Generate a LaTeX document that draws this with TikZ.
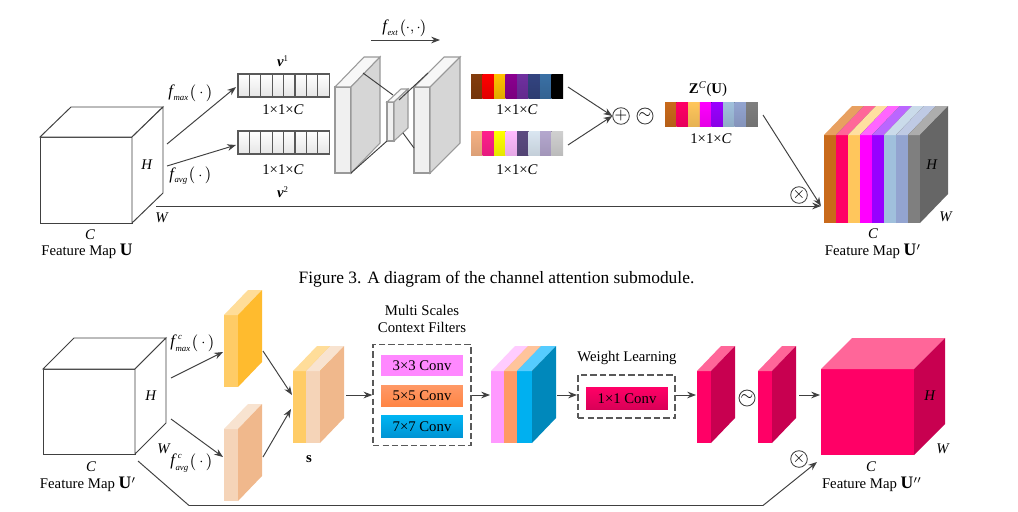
\documentclass[tikz,border=0pt]{standalone}
\usepackage{fontspec}
\setmainfont{Liberation Serif}
\usepackage{amsmath}
\usepackage{xcolor}
\usetikzlibrary{arrows.meta, calc}
\definecolor{lineColor}{HTML}{404040}
\definecolor{yellowFront}{HTML}{FFCC66}
\definecolor{yellowTop}{HTML}{FFDD99}
\definecolor{yellowSide}{HTML}{FFBB2E}
\definecolor{peachFront}{HTML}{F5D4B8}
\definecolor{peachTop}{HTML}{F8E3D0}
\definecolor{peachSide}{HTML}{F0B88C}
\definecolor{pinkFront}{HTML}{FF0066}
\definecolor{pinkTop}{HTML}{FF6699}
\definecolor{pinkSide}{HTML}{C80050}
\tikzset{
    arr/.style={lineColor, line width=0.55pt, -{Stealth[length=5pt,width=3.8pt]}},
    conn/.style={lineColor, line width=0.55pt},
    lab/.style={font=\fontsize{8.4}{10}\selectfont, inner sep=0pt},
    opcircle/.style={circle, draw=lineColor, line width=0.5pt, minimum size=0.32cm, inner sep=0pt, font=\fontsize{9}{9}\selectfont},
    convbox/.style={minimum width=1.64cm, minimum height=0.43cm, inner sep=0pt, font=\fontsize{8.4}{10}\selectfont},
    dashbox/.style={draw=black!65, dash pattern=on 3.6pt off 1.8pt, line width=0.75pt, inner sep=0pt},
}
% x0, x1, y0, y1, offset to the back, front, top, side
\newcommand{\slab}[9][]{%
    \path[#1, fill=#7] (#2,#4) rectangle (#3,#5);
    \path[#1, fill=#8] (#2,#4) -- ++(#6) -- ($(#3,#4)+(#6)$) -- (#3,#4) -- cycle;
    \path[#1, fill=#9] (#3,#4) -- ($(#3,#4)+(#6)$) -- ($(#3,#5)+(#6)$) -- (#3,#5) -- cycle;
}
\newcommand{\dims}{1\texttimes 1\texttimes \textit{C}}
\newcommand{\bigf}{{\fontsize{9.4}{10}\selectfont\textit{f}}\kern-0.7pt}
\newcommand{\tinyit}[1]{{\fontsize{5}{5}\selectfont\textit{#1}}}
\newcommand{\fname}[1]{\bigf\raisebox{-2pt}{\tinyit{#1}}\kern0.6pt\(\big(\cdot\big)\)}
\newcommand{\cname}[1]{\bigf\rlap{\kern1.4pt\raisebox{4pt}{\tinyit{c}}}\raisebox{-2.6pt}{\tinyit{#1}}\kern0.6pt\(\big(\cdot\big)\)}

\begin{document}
\begin{tikzpicture}[x=0.02cm, y=-0.02cm]
    \useasboundingbox (0,0) rectangle (1018,511);

    % top row: input cube
    \slab[draw=lineColor, line width=0.55pt]{40}{132}{137}{223}{31,-30}{white}{white}{white}
    \node[lab] (hone) at (147,165) {\textit{H}};
    \node[lab] (wone) at (162,218) {\textit{W}};
    \node[lab] (cone) at (90,235) {\textit{C}};
    \node[lab] (uone) at (87,251) {Feature Map \textbf{\fontsize{10}{10}\selectfont U}};

    \coordinate (uoutmax) at (167,144);
    \coordinate (uoutavg) at (167,166);
    \coordinate (uoutlong) at (156,206);
    \coordinate (vonein) at (236,87);
    \coordinate (vtwoin) at (236,145);
    \draw[arr] (uoutmax) -- (vonein);
    \draw[arr] (uoutavg) -- (vtwoin);
    \node[lab] (fmax) at (191,93) {\fname{max}};
    \node[lab] (favg) at (191,176) {\fname{avg}};

    % feature bars
    \foreach \y in {74,131}
        \foreach \i in {0,...,7}
            \draw[black!65, line width=0.6pt, top color=white, bottom color=black!10]
                ({238+\i*11.4},\y) rectangle ({238+(\i+1)*11.4},\y+23);
    \node[lab] (vone) at (283,61) {\textbf{\textit{v}}\(^{\text{\fontsize{5}{5}\selectfont 1}}\)};
    \node[lab] (dimone) at (283,110) {\dims};
    \node[lab] (dimtwo) at (283,170) {\dims};
    \node[lab] (vtwo) at (283,192) {\textbf{\textit{v}}\(^{\text{\fontsize{5}{5}\selectfont 2}}\)};

    % encoder and decoder
    \slab[draw=black!40, line width=0.6pt]{335}{351}{87}{173}{29,-30}{black!6}{black!3}{black!16}
    \slab[draw=black!40, line width=0.6pt]{387}{394}{102}{141}{14,-13}{black!6}{black!3}{black!16}
    \slab[draw=black!40, line width=0.6pt]{414}{430}{87}{173}{30,-30}{black!6}{black!3}{black!16}
    \coordinate (encatop) at (363,73);
    \coordinate (midatop) at (393,95);
    \coordinate (encabot) at (351,173);
    \coordinate (midabot) at (387,141);
    \coordinate (midbtop) at (399,100);
    \coordinate (decbtop) at (428,73);
    \coordinate (midbbot) at (403,133);
    \coordinate (decbbot) at (414,148);
    \draw[conn] (encatop) -- (midatop);
    \draw[conn] (encabot) -- (midabot);
    \draw[conn] (midbtop) -- (decbtop);
    \draw[conn] (midbbot) -- (decbbot);
    \coordinate (extstart) at (371,40);
    \coordinate (extend) at (440,40);
    \draw[arr] (extstart) -- (extend);
    \node[lab] (fext) at (405,28) {\bigf\raisebox{-2pt}{\tinyit{ext}}\kern0.6pt\(\big(\cdot,\cdot\big)\)};

    % colour bars
    \foreach \i/\c in {0/843C0C, 1/FF0000, 2/FFC000, 3/8B0090, 4/7030A0, 5/334480, 6/3A70A5, 7/000000} {
        \definecolor{cellColor}{HTML}{\c}
        \fill[top color=cellColor, bottom color=cellColor!88!black] ({471+\i*11.5},74) rectangle ({471+(\i+1)*11.5},98);
    }
    \foreach \i/\c in {0/F4B183, 1/FF1E8C, 2/FFFF00, 3/FFBBFF, 4/5B4A80, 5/DAE6F1, 6/B4A7CE, 7/D0D0D0} {
        \definecolor{cellColor}{HTML}{\c}
        \fill[top color=cellColor, bottom color=cellColor!90!black] ({471+\i*11.5},131) rectangle ({471+(\i+1)*11.5},155);
    }
    \node[lab] (dimthree) at (517,110) {\dims};
    \node[lab] (dimfour) at (517,170) {\dims};

    \node[opcircle] (plus) at (621,116) {\(+\)};
    \node[opcircle] (tilde) at (645,116) {\(\sim\)};
    \coordinate (baronein) at (568,87);
    \coordinate (bartwoin) at (568,145);
    \draw[arr] (baronein) -- (plus.west);
    \draw[arr] (bartwoin) -- (plus.west);

    \foreach \i/\c in {0/C96A1B, 1/FF0066, 2/FFC65C, 3/FF00FF, 4/9900FF, 5/A0C0DC, 6/93A4D0, 7/7F7F7F} {
        \definecolor{cellColor}{HTML}{\c}
        \fill[top color=cellColor, bottom color=cellColor!90!black] ({665+\i*11.6},102) rectangle ({665+(\i+1)*11.6},126);
    }
    \node[lab] (zlabel) at (708,89) {\textbf{Z}\(^{\textit{C}}\)(\textbf{U})};
    \node[lab] (dimfive) at (711,139) {\dims};

    % output cube of the top row
    \foreach \xa/\xb/\c/\t in {824/836/C96A1B/E8A060, 836/848/FF0066/FF6699, 848/860/FFC65C/FFDFA0, 860/872/FF00FF/FF66FF, 872/884/9900FF/BB66FF, 884/896/A0C0DC/CADBEA, 896/908/93A4D0/BFCAE4, 908/920/7F7F7F/ADADAD} {
        \definecolor{stripeFront}{HTML}{\c}
        \definecolor{stripeTop}{HTML}{\t}
        \slab{\xa}{\xb}{135}{223}{28,-29}{stripeFront}{stripeTop}{black!60}
    }
    \node[lab] (hthree) at (932,165) {\textit{H}};
    \node[lab] (wthree) at (946,217) {\textit{W}};
    \node[lab] (cthree) at (873,234) {\textit{C}};
    \node[lab] (uthree) at (873,251) {Feature Map \textbf{\fontsize{10}{10}\selectfont U}\('\)};

    \coordinate (zout) at (763,115);
    \coordinate (mulin) at (821,206);
    \draw[arr] (zout) -- (mulin);
    \draw[arr] (uoutlong) -- (mulin);
    \node[opcircle] (multop) at (799,195) {\(\times\)};

    \node[inner sep=0pt, font=\fontsize{9.9}{12}\selectfont] (caption) at (496.5,279) {Figure 3. A diagram of the channel attention submodule.};

    % bottom row: input cube
    \slab[draw=lineColor, line width=0.55pt]{43}{135}{369}{454}{31,-31}{white}{white}{white}
    \node[lab] (hfour) at (151,396) {\textit{H}};
    \node[lab] (wfour) at (164,449) {\textit{W}};
    \node[lab] (cfour) at (91,467) {\textit{C}};
    \node[lab] (ufour) at (88,484) {Feature Map \textbf{\fontsize{10}{10}\selectfont U}\('\)};
    \node[lab] (cmax) at (193,343) {\cname{max}};
    \node[lab] (cavg) at (192,463) {\cname{avg}};

    \slab{224}{238}{315}{387}{24,-25}{yellowFront}{yellowTop}{yellowSide}
    \slab{224}{238}{429}{501}{24,-25}{peachFront}{peachTop}{peachSide}
    \slab{293}{306}{371}{443}{24,-25}{yellowFront}{yellowTop}{yellowSide}
    \slab{306}{320}{371}{443}{24,-25}{peachFront}{peachTop}{peachSide}
    \node[lab] (sname) at (309,459) {\textbf{s}};

    \coordinate (ucmax) at (171,378);
    \coordinate (ucavg) at (171,419);
    \coordinate (ylwin) at (223,352);
    \coordinate (pchin) at (223,457);
    \coordinate (ylwout) at (263,351);
    \coordinate (pchout) at (263,457);
    \coordinate (sina) at (292,395);
    \coordinate (sinb) at (291,409);
    \coordinate (sout) at (346,395);
    \draw[arr] (ucmax) -- (ylwin);
    \draw[arr] (ucavg) -- (pchin);
    \draw[arr] (ylwout) -- (sina);
    \draw[arr] (pchout) -- (sinb);

    % context filters
    \node[dashbox, minimum width=1.96cm, minimum height=2.02cm] (filters) at (422,395) {};
    \node[lab] (titlea) at (422,310) {Multi Scales};
    \node[lab] (titleb) at (422,327) {Context Filters};
    \definecolor{convTopA}{HTML}{FF88FF}
    \definecolor{convTopB}{HTML}{FF9966}
    \definecolor{convBotB}{HTML}{FF8444}
    \definecolor{convTopC}{HTML}{00B4F2}
    \definecolor{convBotC}{HTML}{0094D4}
    \node[convbox, fill=convTopA] (conva) at (422,365.5) {3\texttimes 3 Conv};
    \node[convbox, top color=convTopB, bottom color=convBotB] (convb) at (422,396) {5\texttimes 5 Conv};
    \node[convbox, top color=convTopC, bottom color=convBotC] (convc) at (422,426.5) {7\texttimes 7 Conv};
    \draw[arr] (sout) -- (filters.west);

    \definecolor{lilacFront}{HTML}{FF99FF}
    \definecolor{lilacTop}{HTML}{FFCCFF}
    \definecolor{coralFront}{HTML}{FF9966}
    \definecolor{coralTop}{HTML}{FFC49B}
    \definecolor{skyFront}{HTML}{00B0F0}
    \definecolor{skyTop}{HTML}{55CCFF}
    \definecolor{skySide}{HTML}{0088BB}
    \slab{491}{504}{371}{443}{24,-25}{lilacFront}{lilacTop}{lilacFront}
    \slab{504}{517}{371}{443}{24,-25}{coralFront}{coralTop}{coralFront}
    \slab{517}{532}{371}{443}{24,-25}{skyFront}{skyTop}{skySide}
    \coordinate (ctxin) at (490,395);
    \coordinate (ctxout) at (557,395);
    \draw[arr] (filters.east) -- (ctxin);

    % weight learning
    \node[dashbox, minimum width=1.94cm, minimum height=0.86cm] (weights) at (626.5,396.5) {};
    \node[lab] (titlec) at (627,358) {Weight Learning};
    \node[convbox, top color=pinkFront, bottom color=pinkFront!85!black] (convd) at (627,398.5) {1\texttimes 1 Conv};
    \coordinate (weightin) at (577,395);
    \coordinate (weightout) at (676,395);
    \draw[arr] (ctxout) -- (weightin);

    \slab{697}{711}{371}{443}{24,-25}{pinkFront}{pinkTop}{pinkSide}
    \slab{758}{772}{371}{443}{24,-25}{pinkFront}{pinkTop}{pinkSide}
    \coordinate (pinkin) at (696,395);
    \coordinate (pinkout) at (799,395);
    \coordinate (bigin) at (820,395);
    \draw[arr] (weightout) -- (pinkin);
    \draw[arr] (pinkout) -- (bigin);
    \node[opcircle] (tildeb) at (747,398) {\(\sim\)};

    % output cube of the bottom row
    \slab{821}{914}{369}{455}{31,-31}{pinkFront}{pinkTop}{pinkSide}
    \node[lab] (hfive) at (930,396) {\textit{H}};
    \node[lab] (wfive) at (943,449) {\textit{W}};
    \node[lab] (cfive) at (871,467) {\textit{C}};
    \node[lab] (ufive) at (872,484) {Feature Map \textbf{\fontsize{10}{10}\selectfont U}\(''\)};

    \coordinate (skipa) at (138,461);
    \coordinate (skipb) at (189,505.5);
    \coordinate (skipc) at (763,505.5);
    \coordinate (skipd) at (817,462);
    \draw[arr] (skipa) -- (skipb) -- (skipc) -- (skipd);
    \node[opcircle] (mulbot) at (799,459) {\(\times\)};
\end{tikzpicture}
\end{document}
